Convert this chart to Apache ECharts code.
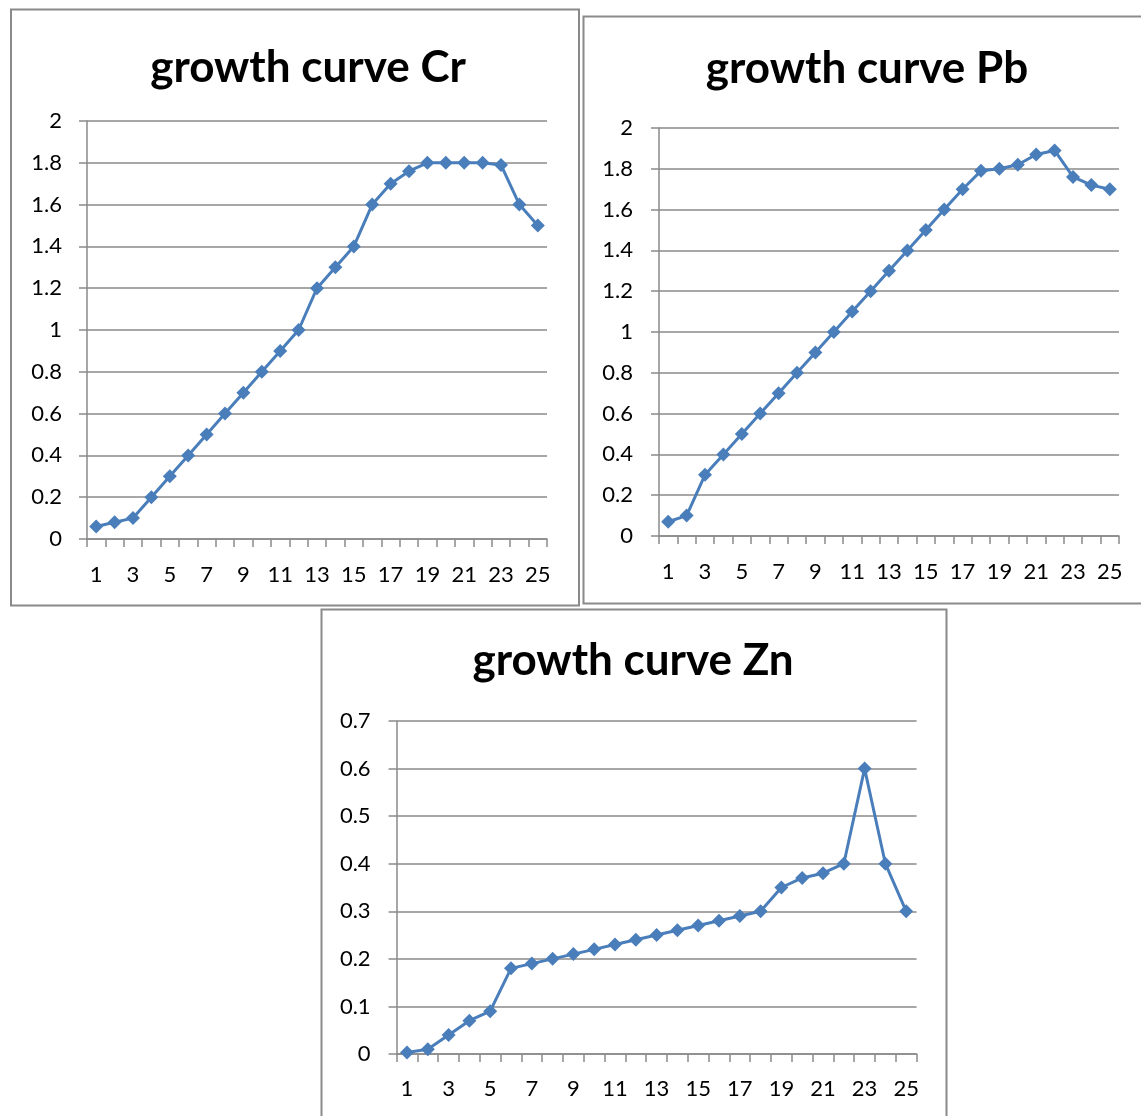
<!DOCTYPE html>
<html>
<head>
<meta charset="utf-8">
<script src="https://cdn.jsdelivr.net/npm/echarts@6/dist/echarts.min.js"></script>
<style>
html,body{margin:0;padding:0;background:#fff;}
#c{width:1141px;height:1116px;}
</style>
</head>
<body>
<div id="c"></div>
<script>
const categories = ['1','2','3','4','5','6','7','8','9','10','11','12','13','14','15','16','17','18','19','20','21','22','23','24','25'];
const crValues = [0.06,0.08,0.1,0.2,0.3,0.4,0.5,0.6,0.7,0.8,0.9,1.0,1.2,1.3,1.4,1.6,1.7,1.76,1.8,1.8,1.8,1.8,1.79,1.6,1.5];
const pbValues = [0.07,0.1,0.3,0.4,0.5,0.6,0.7,0.8,0.9,1.0,1.1,1.2,1.3,1.4,1.5,1.6,1.7,1.79,1.8,1.82,1.87,1.89,1.76,1.72,1.7];
const znValues = [0.003,0.01,0.04,0.07,0.09,0.18,0.19,0.2,0.21,0.22,0.23,0.24,0.25,0.26,0.27,0.28,0.29,0.3,0.35,0.37,0.38,0.4,0.6,0.4,0.3];
const titles = ['growth curve Cr','growth curve Pb','growth curve Zn'];

const FONT = 'Lato';
const GRAY = '#8a8a8a';
const BLUE = '#4a7ebb';

const chart = echarts.init(document.getElementById('c'), null, {renderer:'canvas'});

function xAx(gi, margin){
  return {
    type:'category', gridIndex:gi, data:categories, boundaryGap:true,
    axisLine:{show:true, lineStyle:{color:GRAY, width:1.5}},
    axisTick:{show:true, interval:0, length:8, lineStyle:{color:GRAY, width:1.5}},
    axisLabel:{interval:1, margin:margin, color:'#000', fontFamily:FONT, fontSize:22},
    splitLine:{show:false}
  };
}
function yAx(gi, max, interval, margin){
  return {
    type:'value', gridIndex:gi, min:0, max:max, interval:interval,
    axisLine:{show:true, lineStyle:{color:GRAY, width:1.5}},
    axisTick:{show:true, length:8, lineStyle:{color:GRAY, width:1.5}},
    axisLabel:{margin:margin, color:'#000', fontFamily:FONT, fontSize:22,
      formatter:function(v){return String(Math.round(v*10)/10);}},
    splitLine:{show:true, lineStyle:{color:GRAY, width:1.5}}
  };
}
function ser(i, data){
  return {
    type:'line', xAxisIndex:i, yAxisIndex:i, data:data,
    symbol:'diamond', symbolSize:14, showAllSymbol:true,
    lineStyle:{color:BLUE, width:3},
    itemStyle:{color:BLUE},
    animation:false
  };
}

chart.setOption({
  animation:false,
  backgroundColor:'#fff',
  grid:[
    {left:87, top:121, width:460, height:418},
    {left:659, top:128, width:460, height:408},
    {left:396.6, top:721, width:520, height:333}
  ],
  xAxis:[xAx(0,25), xAx(1,25), xAx(2,24)],
  yAxis:[yAx(0,2,0.2,25), yAx(1,2,0.2,26), yAx(2,0.7,0.1,26)],
  series:[ser(0,crValues), ser(1,pbValues), ser(2,znValues)],
  graphic:[
    {type:'rect', shape:{x:11, y:9.5, width:568, height:596}, style:{fill:'none', stroke:GRAY, lineWidth:2}},
    {type:'rect', shape:{x:583.5, y:16.5, width:560, height:587}, style:{fill:'none', stroke:GRAY, lineWidth:2}},
    {type:'rect', shape:{x:321.5, y:609.5, width:625, height:520}, style:{fill:'none', stroke:GRAY, lineWidth:2}},
    {type:'text', x:308, y:68, style:{text:titles[0], fill:'#000', font:'bold 44px '+FONT, align:'center', verticalAlign:'middle'}},
    {type:'text', x:867, y:69, style:{text:titles[1], fill:'#000', font:'bold 44px '+FONT, align:'center', verticalAlign:'middle'}},
    {type:'text', x:633, y:661, style:{text:titles[2], fill:'#000', font:'bold 44px '+FONT, align:'center', verticalAlign:'middle'}}
  ]
});
</script>
</body>
</html>
